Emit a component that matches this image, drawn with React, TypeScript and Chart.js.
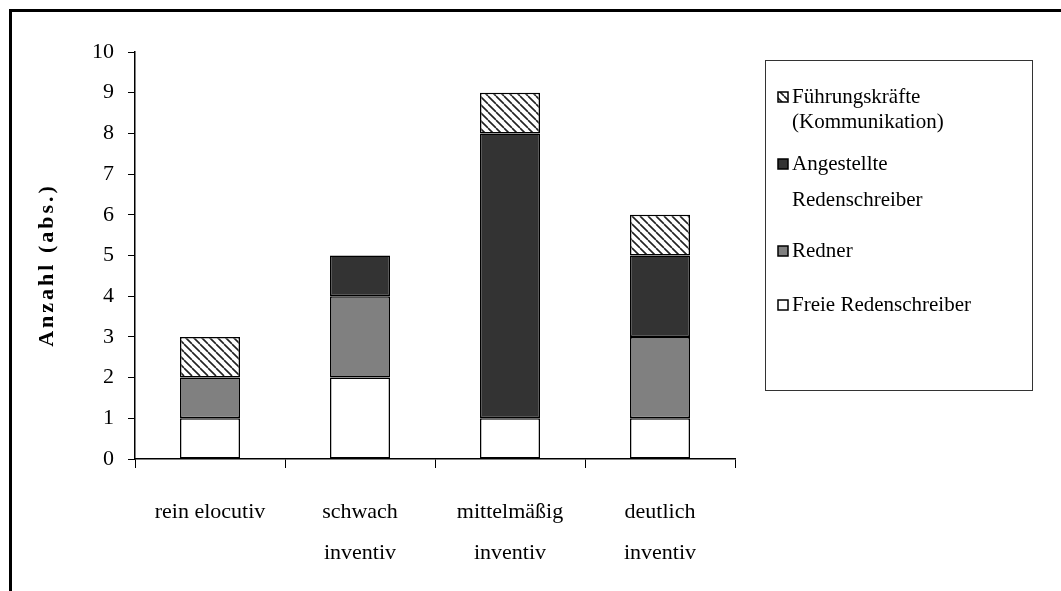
import React, { useEffect, useRef } from "react";
import { Chart, registerables } from "chart.js";

Chart.register(...registerables);

const categories: string[][] = [
  ["rein elocutiv"],
  ["schwach", "inventiv"],
  ["mittelmäßig", "inventiv"],
  ["deutlich", "inventiv"],
];
const freieRedenschreiber = [1, 2, 1, 1];
const redner = [1, 2, 0, 2];
const angestellteRedenschreiber = [0, 1, 7, 2];
const fuehrungskraefte = [1, 0, 1, 1];
const yMin = 0;
const yMax = 10;
const yStep = 1;
const axisTitle = "Anzahl (abs.)";
const legendLines: string[][] = [
  ["Führungskräfte", "(Kommunikation)"],
  ["Angestellte", "Redenschreiber"],
  ["Redner"],
  ["Freie Redenschreiber"],
];

const FONT = '"Liberation Serif", "Times New Roman", serif';

function makeHatch(): CanvasPattern | string {
  const c = document.createElement("canvas");
  c.width = 8;
  c.height = 8;
  const g = c.getContext("2d");
  if (!g) return "#fff";
  g.fillStyle = "#fff";
  g.fillRect(0, 0, 8, 8);
  g.strokeStyle = "#222";
  g.lineWidth = 1.6;
  g.beginPath();
  for (const x of [-8, 0, 8]) {
    g.moveTo(x, 0);
    g.lineTo(x + 8, 8);
  }
  g.stroke();
  const p = g.createPattern(c, "repeat");
  return p || "#fff";
}

export default function App() {
  const ref = useRef<HTMLCanvasElement | null>(null);

  useEffect(() => {
    if (!ref.current) return;
    const hatch = makeHatch();
    const fills = [hatch, "#333333", "#808080", "#ffffff"];

    const overlay = {
      id: "overlay",
      afterDraw(chart: any) {
        const ctx = chart.ctx as CanvasRenderingContext2D;
        // axis title
        ctx.save();
        ctx.translate(47, 265);
        ctx.rotate(-Math.PI / 2);
        ctx.font = `bold 22px ${FONT}`;
        (ctx as any).letterSpacing = "3px";
        ctx.fillStyle = "#000";
        ctx.textAlign = "center";
        ctx.textBaseline = "middle";
        ctx.fillText(axisTitle, 0, 0);
        ctx.restore();

        // legend box
        ctx.save();
        ctx.strokeStyle = "#333";
        ctx.lineWidth = 1;
        ctx.strokeRect(765.5, 60.5, 267, 330);
        const itemY = [97, 164, 251, 305];
        const lineGap = [25, 36, 0, 0];
        ctx.font = `21px ${FONT}`;
        ctx.textBaseline = "middle";
        ctx.textAlign = "left";
        legendLines.forEach((lines, i) => {
          const y = itemY[i];
          ctx.fillStyle = fills[i] as any;
          ctx.fillRect(778, y - 5, 10, 10);
          ctx.strokeStyle = "#000";
          ctx.lineWidth = 1.5;
          ctx.strokeRect(778, y - 5, 10, 10);
          ctx.fillStyle = "#000";
          lines.forEach((t, j) => {
            ctx.fillText(t, 792, y + j * lineGap[i]);
          });
        });
        ctx.restore();
      },
    };

    const common = {
      borderColor: "#000",
      borderWidth: 1.5,
      borderSkipped: false as const,
      barPercentage: 0.4,
      categoryPercentage: 1,
    };

    const chart = new Chart(ref.current, {
      type: "bar",
      data: {
        labels: categories,
        datasets: [
          { label: "Freie Redenschreiber", data: freieRedenschreiber, backgroundColor: "#ffffff", ...common },
          { label: "Redner", data: redner, backgroundColor: "#808080", ...common },
          { label: "Angestellte Redenschreiber", data: angestellteRedenschreiber, backgroundColor: "#333333", ...common },
          { label: "Führungskräfte (Kommunikation)", data: fuehrungskraefte, backgroundColor: hatch as any, ...common },
        ],
      },
      options: {
        responsive: false,
        animation: false,
        layout: { padding: { left: 0, top: 52, right: 326, bottom: 0 } },
        plugins: {
          legend: { display: false },
          tooltip: { enabled: false },
          title: { display: false },
        },
        scales: {
          x: {
            stacked: true,
            offset: true,
            grid: {
              offset: true,
              drawOnChartArea: false,
              drawTicks: true,
              tickLength: 9,
              color: "#000",
              lineWidth: 1,
            },
            border: { color: "#000", width: 1.5 },
            ticks: {
              color: "#000",
              font: { family: FONT, size: 22, lineHeight: 1.85 },
              padding: 24,
              maxRotation: 0,
              autoSkip: false,
            },
            afterFit(scale: any) {
              scale.height = 132;
            },
          },
          y: {
            stacked: true,
            min: yMin,
            max: yMax,
            grid: {
              drawOnChartArea: false,
              drawTicks: true,
              tickLength: 7,
              color: "#000",
              lineWidth: 1,
            },
            border: { color: "#000", width: 1.5 },
            ticks: {
              stepSize: yStep,
              color: "#000",
              font: { family: FONT, size: 22 },
              padding: 14,
            },
            afterFit(scale: any) {
              scale.width = 135;
            },
          },
        },
      },
      plugins: [overlay],
    });
    return () => chart.destroy();
  }, []);

  return (
    <div style={{ position: "absolute", left: 0, top: 0, width: 1061, height: 591, overflow: "hidden", background: "#fff" }}>
      <div
        style={{
          position: "absolute",
          left: 9,
          top: 9,
          width: 1100,
          height: 700,
          border: "3px solid #000",
        }}
      />
      <canvas ref={ref} width={1061} height={591} style={{ position: "absolute", left: 0, top: 0 }} />
    </div>
  );
}
